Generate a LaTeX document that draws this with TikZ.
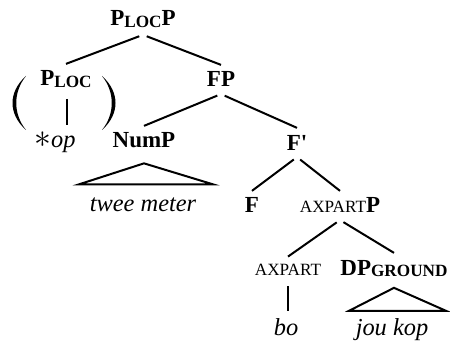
\documentclass[tikz,border=0pt]{standalone}
\usepackage{fontspec}
\setmainfont{Liberation Serif}
\newcommand{\smallcap}[1]{{\fontsize{8.6}{10}\selectfont #1}}
\newcommand{\lowsc}[1]{\raisebox{-0.8pt}{\smallcap{#1}}}

\begin{document}
\begin{tikzpicture}[x=0.5pt, y=-0.5pt,
  cat/.style={font=\fontsize{11.5}{14}\selectfont\bfseries, anchor=base},
  word/.style={font=\fontsize{12.2}{14}\selectfont\itshape, anchor=base},
  branch/.style={line width=1pt, shorten <=2pt},
  roof/.style={line width=1pt, line join=miter}]
\useasboundingbox (0,0) rectangle (450,342);
% categories
\node[cat] (top) at (143,26) {P\lowsc{LOC}P};
\node[cat] (ploc) at (66,86) {P\lowsc{LOC}};
\node[cat] (fp) at (221,87) {FP};
\node[cat] (nump) at (144,148) {NumP};
\node[cat] (fbar) at (297,150) {F\textquotesingle};
\node[cat] (f) at (252,213) {F};
\node[cat] (axpp) at (340,213) {{\mdseries\smallcap{AXPART}}P};
\node[cat] (axp) at (288,275) {\mdseries\smallcap{AXPART}};
\node[cat] (dpg) at (394,275) {DP\lowsc{GROUND}};
% words
\node[word] (op) at (55,148) {{\upshape\scalebox{1.4}{$\ast$}}op};
\node[word] (twee) at (143,212) {twee meter};
\node[word] (bo) at (286,335) {bo};
\node[word] (jou) at (392,335) {jou kop};
% optional P in parentheses
\fill (26,76) .. controls (8,92) and (8,114) .. (26,130)
  .. controls (13,114) and (13,92) .. cycle;
\fill (102,76) .. controls (120,92) and (120,114) .. (102,130)
  .. controls (115,114) and (115,92) .. cycle;
% branches
\draw[branch] (top.south) -- (ploc.north);
\draw[branch] (top.south) -- (fp.north);
\draw[branch] (ploc.south) ++(1,0) -- ([xshift=0.5pt]ploc.south |- op.north);
\draw[branch] (fp.south) -- (nump.north);
\draw[branch] (fp.south) -- (fbar.north);
\draw[branch] (fbar.south) -- (f.north);
\draw[branch] (fbar.south) -- (axpp.north);
\draw[branch] (axpp.south) -- (axp.north);
\draw[branch] (axpp.south) -- (dpg.north);
\draw[branch] (axp.south) -- (axp.south |- bo.north);
% roofs
\draw[roof] ([yshift=-4pt]nump.south) -- ++(-65,21) -- ++(134,0) -- cycle;
\draw[roof] ([yshift=-2pt]dpg.south) -- ++(-45,23) -- ++(97,0) -- cycle;
\end{tikzpicture}
\end{document}
